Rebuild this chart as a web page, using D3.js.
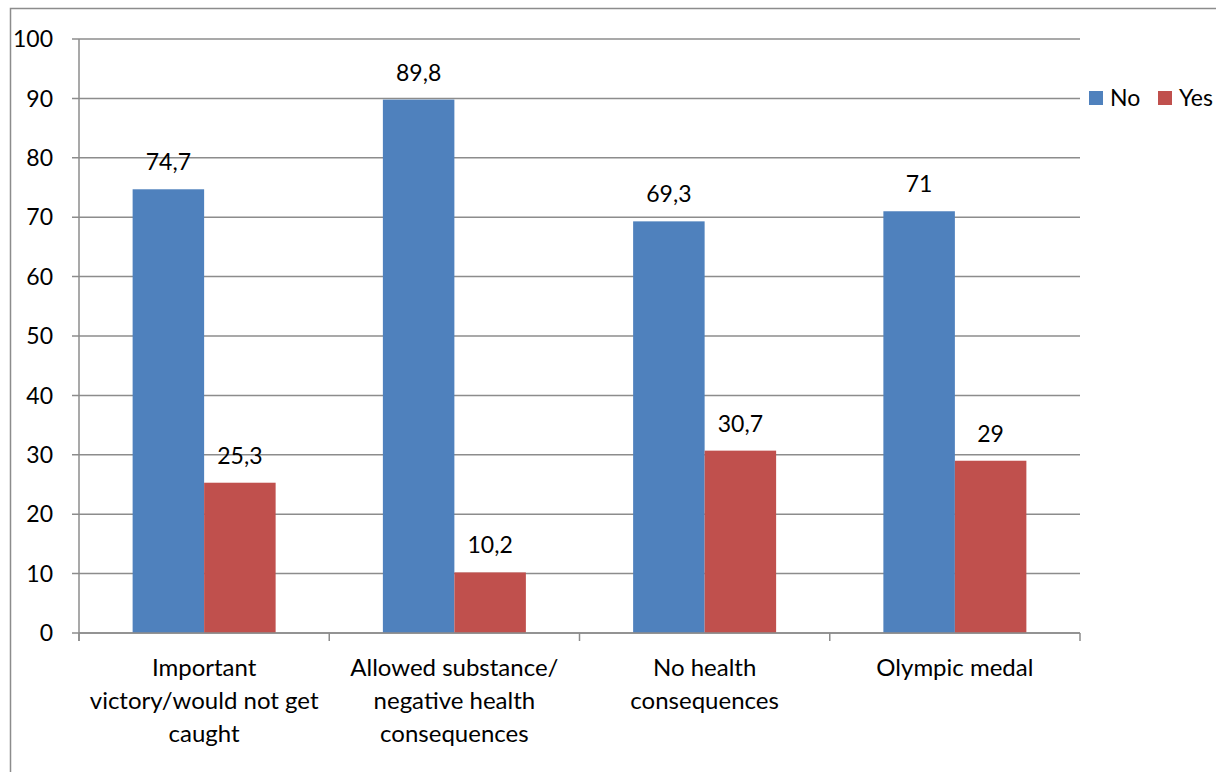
<!DOCTYPE html>
<html>
<head>
<meta charset="utf-8">
<script src="https://cdn.jsdelivr.net/npm/d3@7"></script>
<style>
  html, body { margin: 0; padding: 0; background: #fff; }
  svg { display: block; }
  text { font-family: Lato, "Open Sans", sans-serif; fill: #000; }
</style>
</head>
<body>
<svg id="chart" width="1216" height="772"></svg>
<script>
const categories = [
  ["Important", "victory/would not get", "caught"],
  ["Allowed substance/", "negative health", "consequences"],
  ["No health", "consequences"],
  ["Olympic medal"]
];
const seriesNames = ["No", "Yes"];
const noValues  = [74.7, 89.8, 69.3, 71];
const yesValues = [25.3, 10.2, 30.7, 29];
const yTicks = [0, 10, 20, 30, 40, 50, 60, 70, 80, 90, 100];
const colors = ["#4F81BD", "#C0504D"];

const svg = d3.select("#chart");
const plotLeft = 79, plotRight = 1080, plotTop = 39, plotBottom = 633;
const smallFont = 23, categoryFont = 24;

// outer chart frame
svg.append("rect")
  .attr("x", 10.5).attr("y", 8.5)
  .attr("width", 1300).attr("height", 900)
  .attr("fill", "none").attr("stroke", "#8c8c8c").attr("stroke-width", 1.5);

const x = d3.scaleBand().domain(d3.range(categories.length)).range([plotLeft, plotRight]).paddingInner(0).paddingOuter(0);
const y = d3.scaleLinear().domain([0, 100]).range([plotBottom, plotTop]);
const xs = d3.scaleBand().domain(seriesNames).range([0, x.bandwidth()]).paddingInner(0).paddingOuter(0.75);

// gridlines
svg.append("g").selectAll("line").data(yTicks).join("line")
  .attr("x1", plotLeft - 7).attr("x2", plotRight)
  .attr("y1", d => y(d)).attr("y2", d => y(d))
  .attr("stroke", "#8c8c8c").attr("stroke-width", 1.5);

// y axis line
svg.append("line").attr("x1", plotLeft).attr("x2", plotLeft).attr("y1", plotTop).attr("y2", plotBottom + 8)
  .attr("stroke", "#8c8c8c").attr("stroke-width", 1.5);

// y tick labels
svg.append("g").selectAll("text").data(yTicks).join("text")
  .attr("x", plotLeft - 26).attr("y", d => y(d)).attr("dy", "0.36em")
  .attr("text-anchor", "end").attr("font-size", smallFont)
  .text(d => d);

// x axis ticks at category boundaries
const boundaries = d3.range(categories.length + 1).map(i => plotLeft + i * x.bandwidth());
svg.append("g").selectAll("line").data(boundaries).join("line")
  .attr("x1", d => d).attr("x2", d => d).attr("y1", plotBottom).attr("y2", plotBottom + 8)
  .attr("stroke", "#8c8c8c").attr("stroke-width", 1.5);

// bars with value labels
const series = [noValues, yesValues];
series.forEach((vals, si) => {
  const g = svg.append("g");
  g.selectAll("rect").data(vals).join("rect")
    .attr("x", (d, i) => x(i) + xs(seriesNames[si]))
    .attr("y", d => y(d))
    .attr("width", xs.bandwidth())
    .attr("height", d => y(0) - y(d))
    .attr("fill", colors[si]);
  g.selectAll("text").data(vals).join("text")
    .attr("x", (d, i) => x(i) + xs(seriesNames[si]) + xs.bandwidth() / 2)
    .attr("y", d => y(d) - 19)
    .attr("text-anchor", "middle").attr("font-size", smallFont)
    .text(d => String(d).replace(".", ","));
});

// x axis line
svg.append("line").attr("x1", plotLeft).attr("x2", plotRight).attr("y1", plotBottom).attr("y2", plotBottom)
  .attr("stroke", "#8c8c8c").attr("stroke-width", 1.5);

// category labels
categories.forEach((lines, i) => {
  const cx = x(i) + x.bandwidth() / 2;
  const t = svg.append("text")
    .attr("text-anchor", "middle").attr("font-size", categoryFont)
    .attr("x", cx).attr("y", 676);
  lines.forEach((ln, k) => {
    t.append("tspan").attr("x", cx).attr("dy", k === 0 ? 0 : 33).text(ln);
  });
});

// legend
const legend = svg.append("g");
const legendItems = [{ name: "No", x: 1089 }, { name: "Yes", x: 1158 }];
legendItems.forEach((it, i) => {
  legend.append("rect").attr("x", it.x).attr("y", 91).attr("width", 14).attr("height", 14).attr("fill", colors[i]);
  legend.append("text").attr("x", it.x + 21).attr("y", 98).attr("dy", "0.36em")
    .attr("font-size", smallFont).text(it.name);
});
</script>
</body>
</html>
